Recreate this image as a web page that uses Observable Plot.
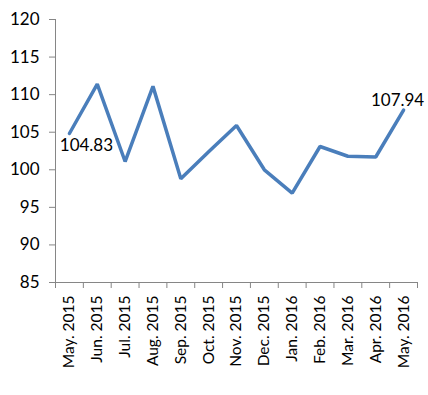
<!DOCTYPE html>
<html>
<head>
<meta charset="utf-8">
<script src="https://cdn.jsdelivr.net/npm/d3@7"></script>
<script src="https://cdn.jsdelivr.net/npm/@observablehq/plot@0.6"></script>
<style>
  html, body { margin: 0; padding: 0; background: #fff; }
  svg { display: block; }
</style>
</head>
<body>
<div id="chart"></div>
<script>
const months = ["May. 2015","Jun. 2015","Jul. 2015","Aug. 2015","Sep. 2015","Oct. 2015","Nov. 2015","Dec. 2015","Jan. 2016","Feb. 2016","Mar. 2016","Apr. 2016","May. 2016"];
const values = [104.83, 111.4, 101.1, 111.1, 98.8, 102.4, 105.9, 100.0, 96.9, 103.1, 101.8, 101.7, 107.94];
const yTicks = [85, 90, 95, 100, 105, 110, 115, 120];
const labelled = [0, 12];

const data = months.map((m, i) => ({month: m, i, value: values[i]}));
const axisColor = "#868686";
const font = "Lato, 'Open Sans', sans-serif";

const chart = Plot.plot({
  width: 428,
  height: 395,
  marginLeft: 55,
  marginRight: 11,
  marginTop: 19,
  marginBottom: 113,
  style: {fontFamily: font, color: "#000", background: "#fff"},
  x: {type: "linear", domain: [0, months.length]},
  y: {domain: [yTicks[0], yTicks[yTicks.length - 1]]},
  marks: [
    Plot.axisY({ticks: yTicks, tickSize: 6, tickPadding: 10, stroke: axisColor, fontSize: 17, fill: "#000", label: null}),
    Plot.axisX({ticks: d3.range(months.length + 1), tickSize: 6, tickFormat: () => "", stroke: axisColor, label: null}),
    Plot.axisX(d3.range(months.length).map(i => i + 0.5), {tickSize: 0, tickPadding: 13, tickRotate: -90, tickFormat: d => months[Math.floor(d)], fontSize: 15.5, fill: "#000", label: null}),
    Plot.ruleX([0], {stroke: axisColor}),
    Plot.ruleY([yTicks[0]], {stroke: axisColor}),
    Plot.line(data, {x: d => d.i + 0.5, y: "value", stroke: "#4a7ebb", strokeWidth: 3.5, strokeLinejoin: "miter"}),
    Plot.text(data.filter(d => d.i === labelled[0]), {x: d => d.i + 0.5, y: "value", text: d => d.value.toFixed(2), dx: 17, dy: 12, fontSize: 17, fill: "#000"}),
    Plot.text(data.filter(d => d.i === labelled[1]), {x: d => d.i + 0.5, y: "value", text: d => d.value.toFixed(2), dx: -6, dy: -10, fontSize: 17, fill: "#000"})
  ]
});
document.getElementById("chart").appendChild(chart);
</script>
</body>
</html>
